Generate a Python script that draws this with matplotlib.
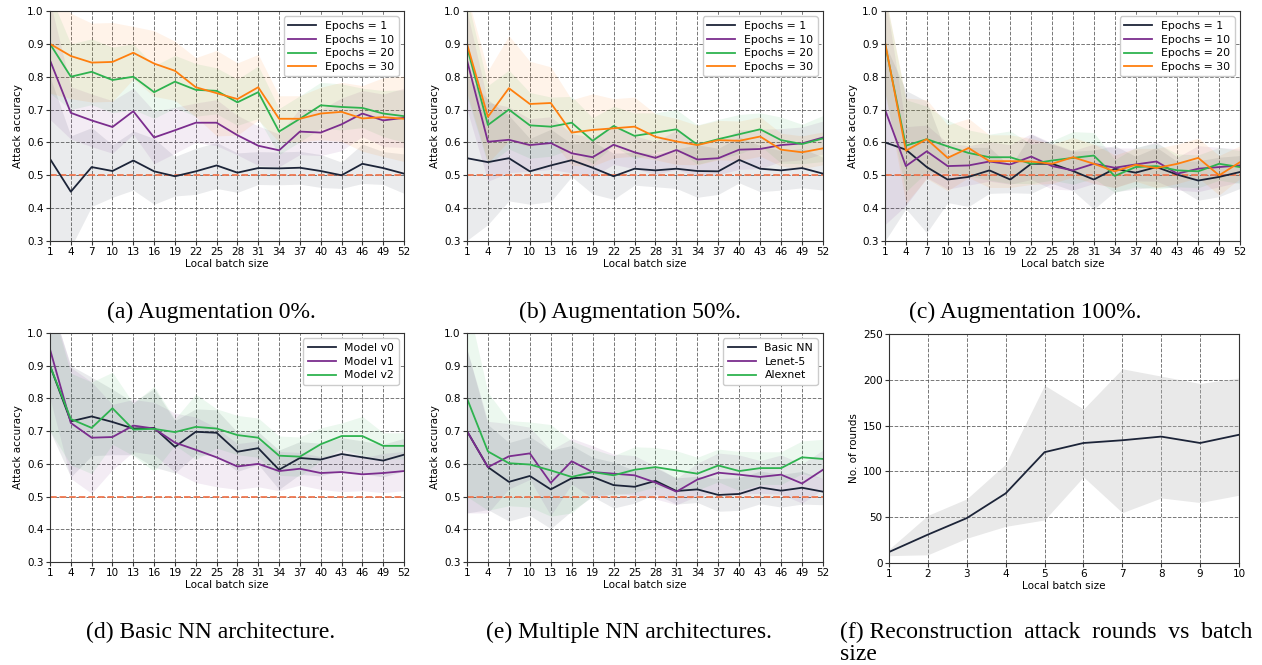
import numpy as np
import matplotlib
matplotlib.use("Agg")
import matplotlib.pyplot as plt

# batch sizes on the x axis
batch = list(range(1, 53, 3))
epoch_labels = ["Epochs = 1", "Epochs = 10", "Epochs = 20", "Epochs = 30"]

# (a) augmentation 0%
aug0_mean = [
    [0.550, 0.450, 0.525, 0.513, 0.545, 0.512, 0.497, 0.512, 0.530, 0.508, 0.522, 0.521, 0.523, 0.513, 0.500, 0.535, 0.522, 0.505],
    [0.850, 0.690, 0.667, 0.647, 0.695, 0.615, 0.637, 0.660, 0.660, 0.622, 0.590, 0.576, 0.633, 0.630, 0.655, 0.688, 0.667, 0.675],
    [0.900, 0.800, 0.815, 0.790, 0.800, 0.753, 0.785, 0.760, 0.757, 0.722, 0.753, 0.633, 0.672, 0.713, 0.708, 0.705, 0.688, 0.680],
    [0.900, 0.863, 0.843, 0.845, 0.873, 0.840, 0.818, 0.768, 0.750, 0.732, 0.768, 0.672, 0.672, 0.688, 0.693, 0.673, 0.677, 0.672],
]
aug0_std = [
    [0.25, 0.17, 0.12, 0.08, 0.09, 0.10, 0.06, 0.07, 0.07, 0.06, 0.05, 0.05, 0.05, 0.05, 0.04, 0.06, 0.05, 0.06],
    [0.18, 0.08, 0.08, 0.08, 0.07, 0.08, 0.07, 0.06, 0.07, 0.06, 0.06, 0.05, 0.07, 0.07, 0.08, 0.07, 0.08, 0.09],
    [0.15, 0.10, 0.10, 0.10, 0.10, 0.08, 0.08, 0.08, 0.07, 0.07, 0.08, 0.07, 0.07, 0.07, 0.07, 0.06, 0.07, 0.08],
    [0.15, 0.13, 0.12, 0.12, 0.08, 0.10, 0.09, 0.09, 0.13, 0.11, 0.10, 0.07, 0.07, 0.08, 0.09, 0.10, 0.12, 0.13],
]

# (b) augmentation 50%
aug50_mean = [
    [0.552, 0.540, 0.552, 0.512, 0.530, 0.546, 0.523, 0.497, 0.520, 0.515, 0.520, 0.513, 0.512, 0.547, 0.520, 0.515, 0.522, 0.505],
    [0.850, 0.602, 0.608, 0.592, 0.598, 0.567, 0.555, 0.593, 0.570, 0.553, 0.577, 0.548, 0.552, 0.578, 0.580, 0.592, 0.597, 0.615],
    [0.890, 0.653, 0.700, 0.652, 0.648, 0.660, 0.605, 0.650, 0.620, 0.630, 0.640, 0.593, 0.610, 0.625, 0.640, 0.607, 0.595, 0.612],
    [0.900, 0.678, 0.765, 0.717, 0.720, 0.630, 0.638, 0.643, 0.648, 0.617, 0.603, 0.592, 0.607, 0.605, 0.618, 0.578, 0.570, 0.582],
]
aug50_std = [
    [0.25, 0.19, 0.13, 0.10, 0.11, 0.05, 0.08, 0.07, 0.05, 0.05, 0.06, 0.08, 0.07, 0.07, 0.07, 0.06, 0.06, 0.05],
    [0.15, 0.12, 0.10, 0.08, 0.08, 0.06, 0.06, 0.06, 0.05, 0.05, 0.06, 0.05, 0.05, 0.06, 0.06, 0.05, 0.05, 0.05],
    [0.15, 0.12, 0.12, 0.10, 0.09, 0.08, 0.07, 0.06, 0.07, 0.06, 0.06, 0.06, 0.06, 0.06, 0.05, 0.07, 0.06, 0.07],
    [0.15, 0.14, 0.16, 0.13, 0.11, 0.10, 0.11, 0.09, 0.09, 0.07, 0.07, 0.06, 0.06, 0.06, 0.06, 0.05, 0.05, 0.05],
]

# (c) augmentation 100%
aug100_mean = [
    [0.600, 0.578, 0.525, 0.487, 0.495, 0.515, 0.487, 0.535, 0.535, 0.513, 0.487, 0.520, 0.508, 0.525, 0.502, 0.484, 0.495, 0.510],
    [0.700, 0.528, 0.573, 0.528, 0.530, 0.542, 0.533, 0.557, 0.528, 0.515, 0.535, 0.523, 0.533, 0.542, 0.505, 0.520, 0.525, 0.530],
    [0.900, 0.590, 0.610, 0.588, 0.568, 0.555, 0.555, 0.535, 0.545, 0.553, 0.560, 0.498, 0.525, 0.528, 0.515, 0.512, 0.535, 0.525],
    [0.905, 0.575, 0.610, 0.553, 0.583, 0.543, 0.543, 0.542, 0.535, 0.555, 0.535, 0.512, 0.532, 0.522, 0.535, 0.553, 0.500, 0.540],
]
aug100_std = [
    [0.30, 0.18, 0.20, 0.07, 0.09, 0.07, 0.04, 0.09, 0.06, 0.06, 0.09, 0.07, 0.05, 0.06, 0.04, 0.06, 0.06, 0.05],
    [0.35, 0.12, 0.08, 0.07, 0.06, 0.06, 0.06, 0.07, 0.07, 0.06, 0.06, 0.06, 0.05, 0.06, 0.05, 0.07, 0.06, 0.05],
    [0.15, 0.14, 0.10, 0.08, 0.07, 0.07, 0.08, 0.06, 0.06, 0.08, 0.07, 0.05, 0.06, 0.07, 0.05, 0.05, 0.05, 0.05],
    [0.15, 0.16, 0.12, 0.10, 0.09, 0.08, 0.08, 0.07, 0.06, 0.06, 0.06, 0.05, 0.05, 0.06, 0.06, 0.06, 0.06, 0.05],
]

# (d) basic NN architecture
model_labels = ["Model v0", "Model v1", "Model v2"]
model_mean = [
    [0.900, 0.730, 0.745, 0.728, 0.708, 0.710, 0.652, 0.698, 0.695, 0.637, 0.648, 0.582, 0.618, 0.613, 0.630, 0.620, 0.610, 0.628],
    [0.950, 0.725, 0.680, 0.682, 0.717, 0.708, 0.665, 0.643, 0.620, 0.592, 0.600, 0.578, 0.585, 0.572, 0.575, 0.568, 0.572, 0.578],
    [0.900, 0.737, 0.710, 0.770, 0.705, 0.707, 0.697, 0.713, 0.708, 0.688, 0.680, 0.625, 0.622, 0.660, 0.685, 0.685, 0.655, 0.655],
]
model_std = [
    [0.20, 0.17, 0.12, 0.10, 0.08, 0.12, 0.08, 0.07, 0.07, 0.06, 0.05, 0.06, 0.05, 0.05, 0.05, 0.05, 0.05, 0.05],
    [0.15, 0.17, 0.17, 0.10, 0.08, 0.08, 0.09, 0.10, 0.09, 0.07, 0.07, 0.06, 0.05, 0.05, 0.06, 0.05, 0.06, 0.06],
    [0.20, 0.14, 0.14, 0.11, 0.08, 0.13, 0.04, 0.10, 0.06, 0.06, 0.06, 0.06, 0.06, 0.05, 0.04, 0.06, 0.04, 0.04],
]

# (e) multiple NN architectures
arch_labels = ["Basic NN", "Lenet-5", "Alexnet"]
arch_mean = [
    [0.700, 0.590, 0.545, 0.563, 0.522, 0.556, 0.560, 0.535, 0.530, 0.548, 0.517, 0.522, 0.505, 0.508, 0.528, 0.518, 0.527, 0.515],
    [0.700, 0.590, 0.623, 0.632, 0.542, 0.608, 0.575, 0.570, 0.565, 0.543, 0.515, 0.552, 0.573, 0.567, 0.560, 0.567, 0.540, 0.582],
    [0.800, 0.638, 0.602, 0.598, 0.580, 0.560, 0.575, 0.565, 0.582, 0.590, 0.580, 0.570, 0.595, 0.578, 0.587, 0.587, 0.620, 0.615],
]
arch_std = [
    [0.25, 0.13, 0.12, 0.12, 0.12, 0.10, 0.06, 0.07, 0.05, 0.04, 0.04, 0.04, 0.05, 0.05, 0.05, 0.05, 0.05, 0.04],
    [0.25, 0.14, 0.10, 0.08, 0.10, 0.07, 0.08, 0.06, 0.06, 0.05, 0.04, 0.05, 0.06, 0.06, 0.05, 0.06, 0.06, 0.06],
    [0.30, 0.18, 0.13, 0.13, 0.14, 0.11, 0.07, 0.06, 0.07, 0.06, 0.06, 0.05, 0.05, 0.06, 0.05, 0.05, 0.05, 0.06],
]

# (f) reconstruction rounds
rec_batch = [1, 2, 3, 4, 5, 6, 7, 8, 9, 10]
rec_mean = [12, 31, 49, 76, 121, 131, 134, 138, 131, 140]
rec_low = [8, 9, 27, 40, 47, 94, 55, 71, 66, 74]
rec_high = [15, 52, 70, 108, 194, 168, 212, 204, 196, 202]

colors = ["#1c2438", "#7b2d8e", "#2eb34f", "#ff7f0e"]
tick_fs = 7.5

plt.rcParams['font.family'] = ['DejaVu Sans']
fig = plt.figure(figsize=(12.62, 6.65), dpi=100)

W, H = 1262.0, 665.0
def add_ax(l, r, t, b):
    return fig.add_axes([l / W, 1 - b / H, (r - l) / W, (b - t) / H])

def style(ax):
    ax.grid(True, linestyle='--', color='#555555', linewidth=0.7, alpha=0.8)
    ax.set_axisbelow(True)
    ax.tick_params(labelsize=tick_fs, length=3, pad=1.5, color='#333333')
    for s in ax.spines.values():
        s.set_color('#333333')
        s.set_linewidth(0.8)

def accuracy_panel(ax, means, stds, labels):
    x = np.array(batch)
    for i, (m, s) in enumerate(zip(means, stds)):
        m = np.array(m)
        s = np.array(s)
        ax.fill_between(x, m - s, m + s, color=colors[i], alpha=0.09, linewidth=0)
        ax.plot(x, m, color=colors[i], linewidth=1.3, label=labels[i])
    ax.axhline(0.5, color='#f07850', linestyle='--', linewidth=1.3, zorder=1.5)
    ax.set_xlim(1, 52)
    ax.set_ylim(0.3, 1.0)
    ax.set_xticks(batch)
    ax.set_yticks(np.arange(0.3, 1.01, 0.1))
    ax.set_xlabel("Local batch size", fontsize=tick_fs, labelpad=1)
    ax.set_ylabel("Attack accuracy", fontsize=tick_fs, labelpad=3)
    style(ax)
    leg = ax.legend(loc='upper right', fontsize=7.8, framealpha=1.0, fancybox=True,
                    handlelength=2.6, borderpad=0.4, labelspacing=0.35)
    leg.get_frame().set_edgecolor('#cccccc')

ax_a = add_ax(50, 404, 11, 241)
accuracy_panel(ax_a, aug0_mean, aug0_std, epoch_labels)
ax_b = add_ax(467, 823, 11, 241)
accuracy_panel(ax_b, aug50_mean, aug50_std, epoch_labels)
ax_c = add_ax(885, 1240, 11, 241)
accuracy_panel(ax_c, aug100_mean, aug100_std, epoch_labels)
ax_d = add_ax(50, 404, 333, 562)
accuracy_panel(ax_d, model_mean, model_std, model_labels)
ax_e = add_ax(467, 823, 333, 562)
accuracy_panel(ax_e, arch_mean, arch_std, arch_labels)

ax_f = add_ax(889, 1239, 334, 563)
ax_f.fill_between(rec_batch, rec_low, rec_high, color='#bbbbbb', alpha=0.32, linewidth=0)
ax_f.plot(rec_batch, rec_mean, color=colors[0], linewidth=1.3)
ax_f.set_xlim(1, 10)
ax_f.set_ylim(0, 250)
ax_f.set_xticks(rec_batch)
ax_f.set_yticks(range(0, 251, 50))
ax_f.set_xlabel("Local batch size", fontsize=tick_fs, labelpad=1)
ax_f.set_ylabel("No. of rounds", fontsize=tick_fs, labelpad=3)
style(ax_f)

# captions
cap = dict(fontsize=17, family='Liberation Serif', va='center')
fig.text(211 / W, 1 - 312 / H, "(a) Augmentation 0%.", ha='center', **cap)
fig.text(630 / W, 1 - 312 / H, "(b) Augmentation 50%.", ha='center', **cap)
fig.text(1025 / W, 1 - 312 / H, "(c) Augmentation 100%.", ha='center', **cap)
fig.text(211 / W, 1 - 632 / H, "(d) Basic NN architecture.", ha='center', **cap)
fig.text(629 / W, 1 - 632 / H, "(e) Multiple NN architectures.", ha='center', **cap)
fig.text(840 / W, 1 - 632 / H, "(f) Reconstruction  attack  rounds  vs  batch", ha='left', **cap)
fig.text(840 / W, 1 - 654 / H, "size", ha='left', **cap)

fig.savefig("out.png", dpi=100)
